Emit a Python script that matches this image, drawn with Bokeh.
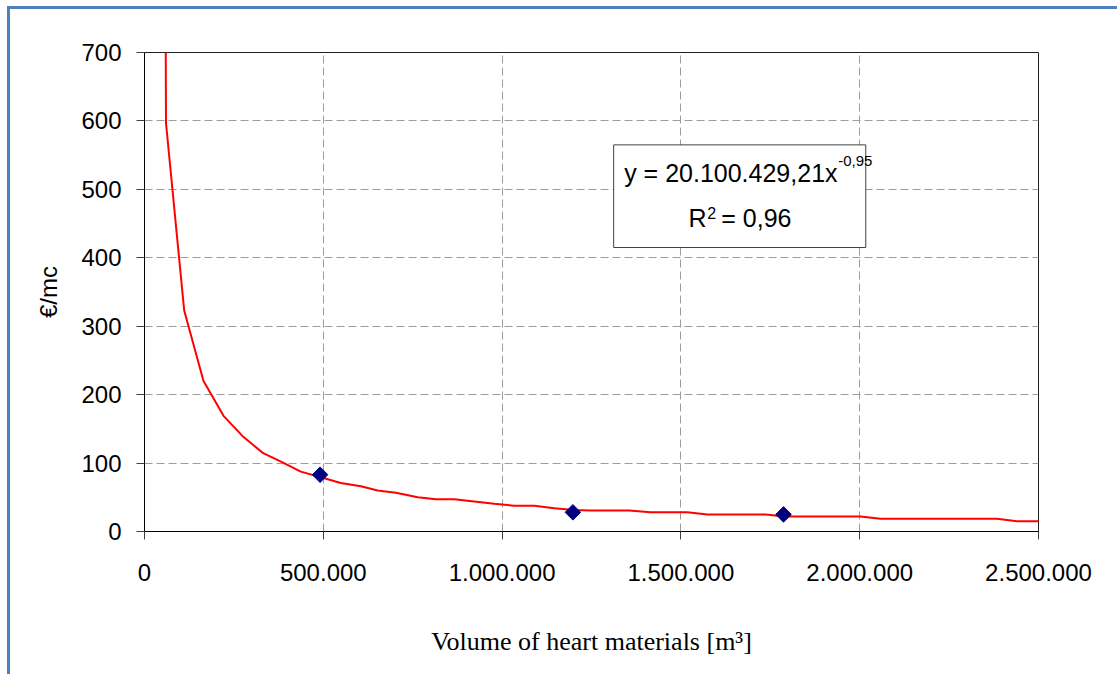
from bokeh.plotting import figure
from bokeh.models import FixedTicker, Label, BoxAnnotation, Range1d
from bokeh.embed import file_html
from bokeh.resources import INLINE
import math

# ---- data ----
trend_x = [59000, 60100, 111000, 165000, 221000, 277000, 332000, 386000, 437000,
           493000, 549000, 605000, 652000, 703000, 764000, 815000, 866000, 922000,
           978000, 1034000, 1090000, 1146000, 1202000, 1248000, 1355000, 1415000,
           1518000, 1574000, 1737000, 1788000, 2002000, 2058000, 2384000, 2440000,
           2500000]
trend_y = [760, 597, 323, 220, 169, 138, 114.5, 101, 87.5,
           79.4, 71, 66, 60, 56.6, 50.2, 47.3, 47.3, 43.9,
           40.5, 37.6, 37.6, 34.1, 31.5, 30.7, 30.7, 28,
           28, 24.9, 24.9, 21.9, 21.9, 18.6, 18.6, 15.1,
           15.1]

obs_x = [491000, 1198000, 1787000]
obs_y = [83, 28, 25]

x_ticks = [0, 500000, 1000000, 1500000, 2000000, 2500000]
x_tick_labels = ["0", "500.000", "1.000.000", "1.500.000", "2.000.000", "2.500.000"]
y_ticks = [0, 100, 200, 300, 400, 500, 600, 700]

eq_main = "y = 20.100.429,21x"
eq_exp = "-0,95"
r2_base = "R"
r2_exp = "2"
r2_rest = "= 0,96"

x_title = "Volume of heart materials [m³]"
y_title = "€/mc"

FONT = "Liberation Sans"

p = figure(width=1110, height=668, output_backend="svg", toolbar_location=None,
           x_range=Range1d(0, 2500000), y_range=Range1d(0, 700),
           min_border_left=134, min_border_right=82, min_border_top=43,
           min_border_bottom=146)
p.styles = {"margin-left": "7px", "margin-top": "6px",
            "border-left": "3px solid #4F81BD", "border-top": "3px solid #4F81BD"}

p.background_fill_color = "white"
p.border_fill_color = "white"
p.outline_line_color = "#202020"
p.outline_line_width = 1

# grid
for g in (p.xgrid, p.ygrid):
    g.grid_line_color = "#9C9C9C"
    g.grid_line_dash = "8 4"
    g.grid_line_width = 1

# axes
p.xaxis.ticker = FixedTicker(ticks=x_ticks)
p.xaxis.major_label_overrides = {t: l for t, l in zip(x_ticks, x_tick_labels)}
p.yaxis.ticker = FixedTicker(ticks=y_ticks)
for ax in (p.xaxis, p.yaxis):
    ax.axis_line_color = "black"
    ax.axis_line_width = 1
    ax.major_tick_line_color = "#404040"
    ax.major_tick_in = 0
    ax.major_tick_out = 8
    ax.minor_tick_line_color = None
    ax.major_label_text_font = FONT
    ax.major_label_text_font_size = "24px"
    ax.major_label_text_color = "black"
p.xaxis.major_label_standoff = 24
p.yaxis.major_label_standoff = 15

p.xaxis.axis_label = x_title
p.xaxis.axis_label_text_font = "Liberation Serif"
p.xaxis.axis_label_text_font_size = "26px"
p.xaxis.axis_label_text_font_style = "normal"
p.xaxis.axis_label_text_color = "black"
p.xaxis.axis_label_standoff = 43

p.yaxis.axis_label = y_title
p.yaxis.axis_label_text_font = FONT
p.yaxis.axis_label_text_font_size = "24px"
p.yaxis.axis_label_text_font_style = "normal"
p.yaxis.axis_label_text_color = "black"
p.yaxis.axis_label_standoff = 16

# trend line and observations
p.line(trend_x, trend_y, line_color="#FF0000", line_width=2)
p.scatter(obs_x, obs_y, marker="square", size=11, angle=math.pi / 4,
          fill_color="#000080", line_color="#000080")

# equation box
p.add_layout(BoxAnnotation(left=1312000, right=2017000, bottom=415, top=565,
                           fill_color="white", fill_alpha=1.0,
                           line_color="#404040", line_alpha=1.0, line_width=1))
p.add_layout(Label(x=1938000, y=524, text=eq_main, text_align="right",
                   text_baseline="alphabetic", text_font=FONT,
                   text_font_size="25px", text_color="black"))
p.add_layout(Label(x=1940000, y=542, text=eq_exp, text_align="left",
                   text_baseline="alphabetic", text_font=FONT,
                   text_font_size="15px", text_color="black"))
p.add_layout(Label(x=1572000, y=458, text=r2_base, text_align="right",
                   text_baseline="alphabetic", text_font=FONT,
                   text_font_size="25px", text_color="black"))
p.add_layout(Label(x=1574000, y=466, text=r2_exp, text_align="left",
                   text_baseline="alphabetic", text_font=FONT,
                   text_font_size="16px", text_color="black"))
p.add_layout(Label(x=1613000, y=458, text=r2_rest, text_align="left",
                   text_baseline="alphabetic", text_font=FONT,
                   text_font_size="25px", text_color="black"))

open("out.html", "w").write(file_html(p, INLINE))
